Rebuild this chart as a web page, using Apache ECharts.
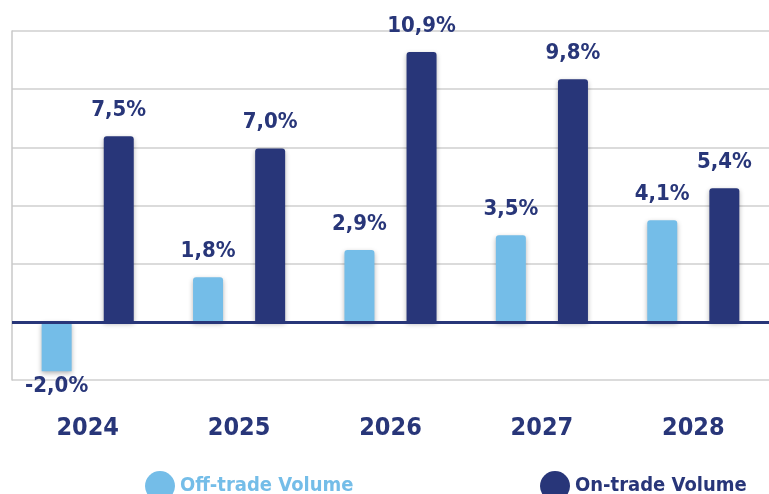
<!DOCTYPE html>
<html>
<head>
<meta charset="utf-8">
<script src="https://cdn.jsdelivr.net/npm/echarts@6/dist/echarts.min.js"></script>
<style>
  html, body { margin: 0; padding: 0; background: #fff; }
  #chart { width: 769px; height: 494px; }
</style>
</head>
<body>
<div id="chart"></div>
<script>
// data
const years = ['2024', '2025', '2026', '2027', '2028']
const offTrade = [-2.0, 1.8, 2.9, 3.5, 4.1]
const onTrade = [7.5, 7.0, 10.9, 9.8, 5.4]

const navy = '#283679'
const lightBlue = '#74bde8'
const font = '"DejaVu Sans Condensed", "Liberation Sans Narrow", sans-serif'

const fmt = p => p.value.toFixed(1).replace('.', ',') + '%'

const chart = echarts.init(document.getElementById('chart'))

const barStyle = color => ({
  color: color,
  borderRadius: [3, 3, 0, 0],
  shadowBlur: 5,
  shadowColor: 'rgba(0,0,0,0.3)',
  shadowOffsetY: 2
})

const labelStyle = {
  show: true,
  position: 'top',
  distance: 15,
  formatter: fmt,
  color: navy,
  fontFamily: font,
  fontWeight: 'bold',
  fontSize: 22
}

chart.setOption({
  animation: false,
  grid: { left: 12, top: 31, width: 765, bottom: 114 },
  xAxis: {
    type: 'category',
    data: years,
    axisLine: { show: false },
    axisTick: { show: false },
    axisLabel: {
      margin: 36,
      color: navy,
      fontFamily: font,
      fontWeight: 'bold',
      fontSize: 25
    }
  },
  yAxis: {
    type: 'value',
    min: -2.35,
    max: 11.75,
    interval: 2.35,
    axisLabel: { show: false },
    axisTick: { show: false },
    axisLine: { show: true, lineStyle: { color: '#c8c8c8', width: 1.5 } },
    splitLine: { lineStyle: { color: '#cfcfcf', width: 1.5 } }
  },
  legend: [
    {
      data: [{ name: 'Off-trade Volume', textStyle: { color: lightBlue } }],
      left: 140, top: 466, itemGap: 8,
      icon: 'circle', itemWidth: 30, itemHeight: 30,
      textStyle: { fontFamily: font, fontWeight: 'bold', fontSize: 20 }
    },
    {
      data: [{ name: 'On-trade Volume', textStyle: { color: navy } }],
      left: 535, top: 466,
      icon: 'circle', itemWidth: 30, itemHeight: 30,
      textStyle: { fontFamily: font, fontWeight: 'bold', fontSize: 20 }
    }
  ],
  series: [
    {
      name: 'Off-trade Volume',
      type: 'bar',
      data: offTrade.map(v => v < 0
        ? { value: v, label: { position: 'bottom', distance: 4 } }
        : v),
      barWidth: 30,
      barGap: '107%',
      itemStyle: barStyle(lightBlue),
      label: labelStyle,
      markLine: {
        silent: true,
        symbol: 'none',
        label: { show: false },
        lineStyle: { color: navy, width: 3, type: 'solid' },
        data: [{ yAxis: 0 }]
      }
    },
    {
      name: 'On-trade Volume',
      type: 'bar',
      data: onTrade,
      barWidth: 30,
      itemStyle: barStyle(navy),
      label: labelStyle
    }
  ]
})
</script>
</body>
</html>
